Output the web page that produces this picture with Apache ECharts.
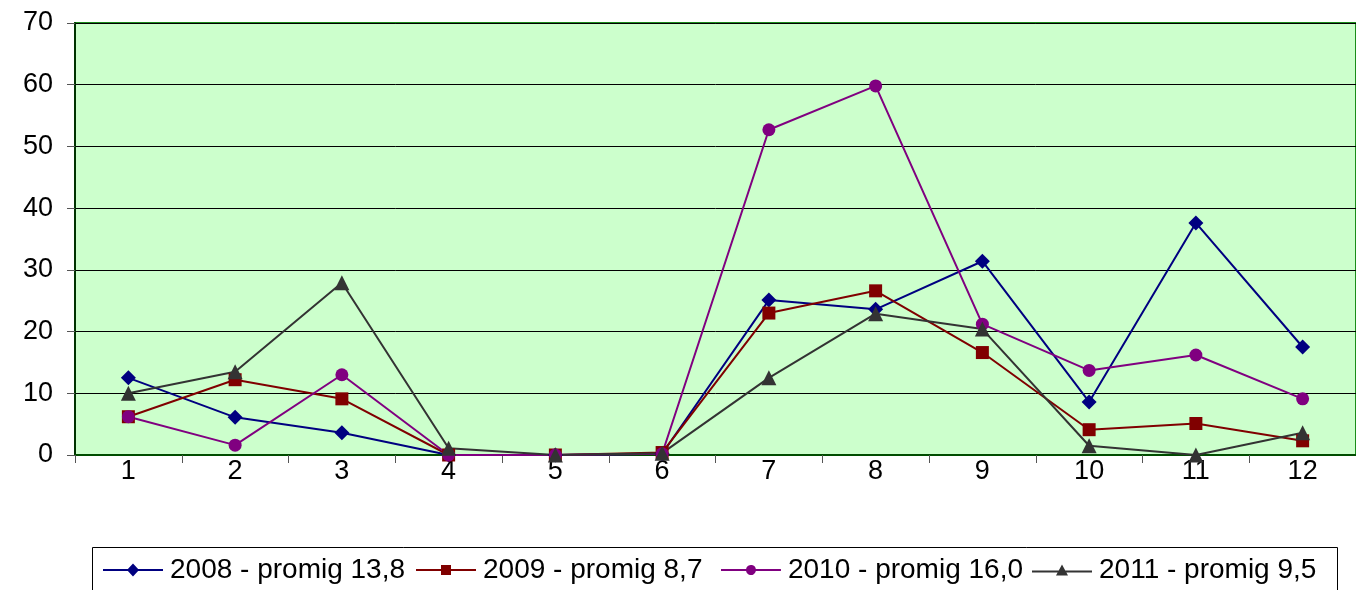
<!DOCTYPE html>
<html>
<head>
<meta charset="utf-8">
<script src="https://cdn.jsdelivr.net/npm/echarts@6/dist/echarts.min.js"></script>
<style>
html,body{margin:0;padding:0;background:#fff;}
#c{width:1356px;height:590px;}
</style>
</head>
<body>
<div id="c"></div>
<script>
var months = ['1','2','3','4','5','6','7','8','9','10','11','12'];
var yTicks = [0,10,20,30,40,50,60,70];
var names = ['2008 - promig 13,8','2009 - promig 8,7','2010 - promig 16,0','2011 - promig 9,5'];
var v2008 = [12.5, 6.1, 3.6, 0, 0, 0.2, 25.1, 23.6, 31.4, 8.6, 37.6, 17.5];
var v2009 = [6.2, 12.2, 9.1, 0, 0, 0.4, 23.0, 26.6, 16.6, 4.1, 5.1, 2.3];
var v2010 = [6.2, 1.6, 13.0, 0, 0, 0.2, 52.7, 59.8, 21.2, 13.7, 16.2, 9.1];
var v2011 = [10.0, 13.5, 27.9, 1.1, 0, 0.3, 12.5, 22.9, 20.4, 1.5, 0, 3.6];

var colors = ['#000080','#800000','#800080','#333333'];
var symbols = ['diamond','rect','circle','triangle'];
var sizes = [15,13,13,15];
var values = [v2008, v2009, v2010, v2011];
var legendLeft = [103, 416, 721, 1032];
// legend icons: line + marker, drawn as filled paths
var legendIcons = [
  'path://M0 5.5 H24.9 L30 0 L35.1 5.5 H60 V7.5 H35.1 L30 13 L24.9 7.5 H0 Z',
  'path://M0 4 H25 V0 H35 V4 H60 V6 H35 V10 H25 V6 H0 Z',
  'path://M0 4 H25.1 A5 5 0 0 1 34.9 4 H60 V6 H34.9 A5 5 0 0 1 25.1 6 H0 Z',
  'path://M0 6 H26.73 L30 0 L33.27 6 H60 V8 H34.36 L36 11 H24 L25.64 8 H0 Z'
];
var legendIconH = [13, 10, 10, 11];

var series = names.map(function(n,i){
  return {
    name: n, type:'line', data: values[i],
    symbol: symbols[i], symbolSize: sizes[i],
    showAllSymbol: true,
    lineStyle:{color:colors[i], width:2},
    itemStyle:{color:colors[i]},
    animation:false
  };
});

var legends = names.map(function(n,i){
  return {
    data:[{name:n, icon: legendIcons[i]}], left: legendLeft[i], top: 556,
    itemWidth: 60, itemHeight: legendIconH[i], itemGap: 0,
    padding: 0,
    itemStyle:{borderWidth:0},
    textStyle:{fontFamily:'Liberation Sans, Arial, sans-serif', fontSize:28, color:'#000', padding:[0,0,0,2]}
  };
});

var chart = echarts.init(document.getElementById('c'), null, {renderer:'canvas'});
chart.setOption({
  backgroundColor:'#ffffff',
  animation:false,
  grid:{left:75, right:0, top:23, bottom:135, show:true, backgroundColor:'#CCFFCC', borderColor:'#1a8c1a', borderWidth:2},
  legend: legends,
  xAxis:{
    type:'category', data: months, boundaryGap:true,
    axisLine:{show:true, lineStyle:{color:'#004d00', width:2}},
    axisTick:{show:true, alignWithLabel:false, length:8, lineStyle:{color:'#555', width:1}},
    axisLabel:{fontFamily:'Liberation Sans, Arial, sans-serif', fontSize:27, color:'#000', margin:3},
    splitLine:{show:false}
  },
  yAxis:{
    type:'value', min:0, max:70, interval:10,
    axisLine:{show:true, lineStyle:{color:'#003300', width:2}},
    axisTick:{show:true, length:8, lineStyle:{color:'#555', width:1}},
    axisLabel:{fontFamily:'Liberation Sans, Arial, sans-serif', fontSize:27, color:'#000', margin:22},
    splitLine:{show:true, lineStyle:{color:'#000', width:1}}
  },
  graphic:[{
    type:'rect', shape:{x:92.5, y:547.5, width:1245, height:60},
    style:{fill:'none', stroke:'#000', lineWidth:1}, silent:true, z:-1
  }],
  series: series
});
</script>
</body>
</html>
